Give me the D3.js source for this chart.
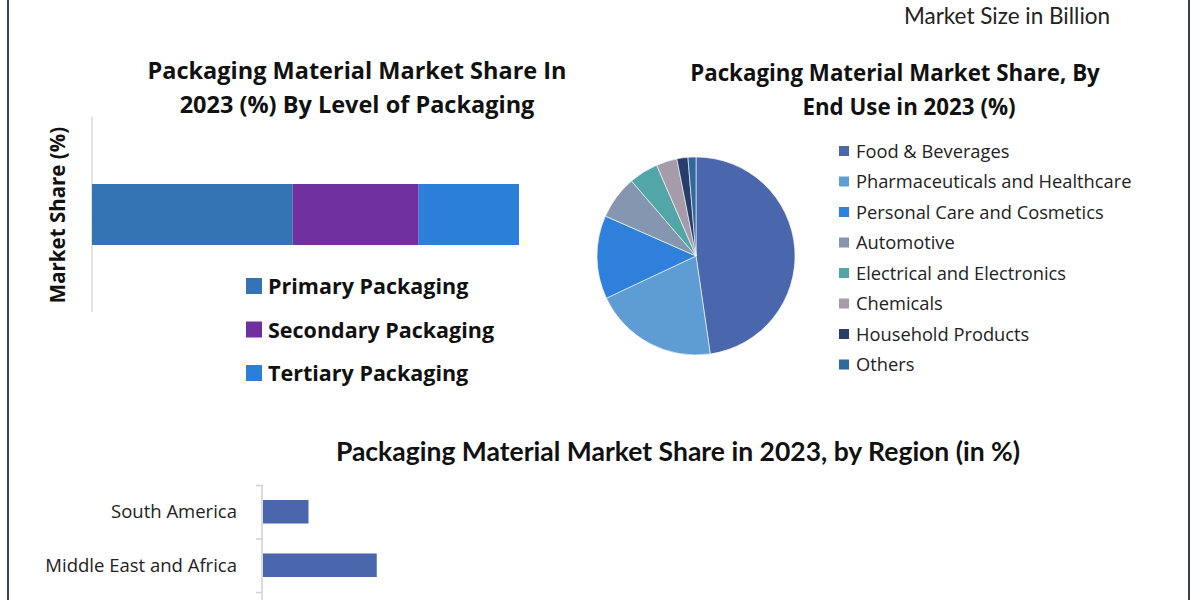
<!DOCTYPE html>
<html>
<head>
<meta charset="utf-8">
<title>Packaging Material Market</title>
<style>
  body { margin: 0; background: #fff; }
  svg { font-family: "Open Sans", "Noto Sans", Arial, sans-serif; }
  .title { font-weight: 700; fill: #111; }
  .legend-text { fill: #222; }
</style>
<script src="https://d3js.org/d3.v7.min.js"></script>
</head>
<body>
<div id="chart"></div>
<script>
// level of packaging (stacked bar)
var levels = ["Primary Packaging", "Secondary Packaging", "Tertiary Packaging"];
var levelShares = [47, 29.5, 23.5];
var levelColors = ["#3574b4", "#7030a0", "#2c7fd8"];

// end use (pie)
var endUses = ["Food & Beverages", "Pharmaceuticals and Healthcare", "Personal Care and Cosmetics",
  "Automotive", "Electrical and Electronics", "Chemicals", "Household Products", "Others"];
var endUseShares = [47.7, 20.3, 13.6, 7.1, 4.8, 3.4, 1.8, 1.3];
var endUseColors = ["#4a66ad", "#5e9cd4", "#2e80da", "#8496b0", "#52a6a8", "#a69ba8", "#283d69", "#2f6a9b"];

// region (horizontal bars, cut off at bottom)
var regions = ["South America", "Middle East and Africa"];
var regionShares = [7, 17.5];

var W = 1200, H = 600;
var svg = d3.select("#chart").append("svg")
  .attr("width", W)
  .attr("height", H);

// frame lines
svg.append("line").attr("x1", 8).attr("x2", 8).attr("y1", 0).attr("y2", H)
  .attr("stroke", "#3b4454").attr("stroke-width", 2);
svg.append("line").attr("x1", 1189).attr("x2", 1189).attr("y1", 0).attr("y2", H)
  .attr("stroke", "#3b4454").attr("stroke-width", 2);

svg.append("text")
  .attr("x", 1007).attr("y", 23.5)
  .attr("text-anchor", "middle")
  .style("font-family", "Lato, 'Open Sans', sans-serif")
  .style("font-size", "22.5px")
  .attr("fill", "#222")
  .text("Market Size in Billion");

// ---------- stacked bar ----------
var t1 = svg.append("text").attr("class", "title")
  .attr("text-anchor", "middle")
  .style("font-size", "23.5px");
t1.append("tspan").attr("x", 357).attr("y", 79).text("Packaging Material Market Share In");
t1.append("tspan").attr("x", 357).attr("y", 113).text("2023 (%) By Level of Packaging");

svg.append("text").attr("class", "title")
  .attr("transform", "translate(65,215) rotate(-90)")
  .attr("text-anchor", "middle")
  .style("font-size", "20.5px")
  .text("Market Share (%)");

svg.append("line").attr("x1", 92).attr("x2", 92).attr("y1", 117).attr("y2", 312)
  .attr("stroke", "#d9d9d9").attr("stroke-width", 1.5);

var xStack = d3.scaleLinear().domain([0, d3.sum(levelShares)]).range([92, 519]);
var yStack = d3.scaleBand().domain(["2023"]).range([184, 245]).padding(0);

var cum = 0;
var stackData = levelShares.map(function(v, i) {
  var d = {name: levels[i], x0: cum, x1: cum + v, color: levelColors[i]};
  cum += v;
  return d;
});

svg.append("g").selectAll("rect")
  .data(stackData).enter()
  .append("rect")
  .attr("x", d => xStack(d.x0))
  .attr("width", d => xStack(d.x1) - xStack(d.x0))
  .attr("y", yStack("2023"))
  .attr("height", yStack.bandwidth())
  .attr("fill", d => d.color);

var lg1 = svg.append("g").selectAll("g")
  .data(stackData).enter()
  .append("g")
  .attr("transform", (d, i) => `translate(246, ${286 + i * 43.5})`);
lg1.append("rect").attr("x", 0).attr("y", -8).attr("width", 16).attr("height", 16)
  .attr("fill", d => d.color);
lg1.append("text").attr("x", 22).attr("y", 8)
  .attr("class", "title")
  .style("font-size", "21.5px")
  .text(d => d.name);

// ---------- pie ----------
var t2 = svg.append("text").attr("class", "title")
  .attr("text-anchor", "middle")
  .style("font-size", "22.3px");
t2.append("tspan").attr("x", 895).attr("y", 81).text("Packaging Material Market Share, By");
t2.append("tspan").attr("x", 909).attr("y", 115).text("End Use in 2023 (%)");

var pieData = endUses.map((n, i) => ({name: n, value: endUseShares[i], color: endUseColors[i]}));
var pie = d3.pie().sort(null).value(d => d.value);
var arc = d3.arc().innerRadius(0).outerRadius(99);

svg.append("g")
  .attr("transform", "translate(696,256)")
  .selectAll("path")
  .data(pie(pieData)).enter()
  .append("path")
  .attr("d", arc)
  .attr("fill", d => d.data.color)
  .attr("stroke", "#fff")
  .attr("stroke-width", 0.6);

var lg2 = svg.append("g").selectAll("g")
  .data(pieData).enter()
  .append("g")
  .attr("transform", (d, i) => `translate(839, ${151 + i * 30.5})`);
lg2.append("rect").attr("x", 0).attr("y", -5).attr("width", 10).attr("height", 10)
  .attr("fill", d => d.color);
lg2.append("text").attr("x", 17).attr("y", 6.5)
  .attr("class", "legend-text")
  .style("font-size", "18.3px")
  .text(d => d.name);

// ---------- region bars ----------
svg.append("text").attr("class", "title")
  .attr("x", 678).attr("y", 461)
  .attr("text-anchor", "middle")
  .style("font-family", "Lato, 'Open Sans', sans-serif")
  .style("font-size", "26.5px")
  .text("Packaging Material Market Share in 2023, by Region (in %)");

var yReg = d3.scaleBand().domain(regions).range([485, 592]).paddingInner(0.56).paddingOuter(0.28);
var xReg = d3.scaleLinear().domain([0, 100]).range([263, 913]);

var yAxis = d3.axisLeft(d3.scaleLinear().domain([0, 2]).range([485, 592]))
  .tickValues([0, 1, 2]).tickSize(6).tickFormat("");
var ax = svg.append("g").attr("transform", "translate(262,0)").call(yAxis);
ax.select(".domain").remove();
ax.selectAll("line").attr("stroke", "#d0d0d0").attr("stroke-width", 1.5);
svg.append("line").attr("x1", 262).attr("x2", 262).attr("y1", 485).attr("y2", H)
  .attr("stroke", "#d0d0d0").attr("stroke-width", 1.5);

svg.append("g").selectAll("rect")
  .data(regions).enter()
  .append("rect")
  .attr("x", xReg(0))
  .attr("y", d => yReg(d))
  .attr("width", (d, i) => xReg(regionShares[i]) - xReg(0))
  .attr("height", yReg.bandwidth())
  .attr("fill", "#4a66ad");

svg.append("g").selectAll("text")
  .data(regions).enter()
  .append("text")
  .attr("x", 237)
  .attr("y", d => yReg(d) + yReg.bandwidth() / 2 + 6.5)
  .attr("text-anchor", "end")
  .attr("class", "legend-text")
  .style("font-size", "18.5px")
  .text(d => d);
</script>
</body>
</html>
